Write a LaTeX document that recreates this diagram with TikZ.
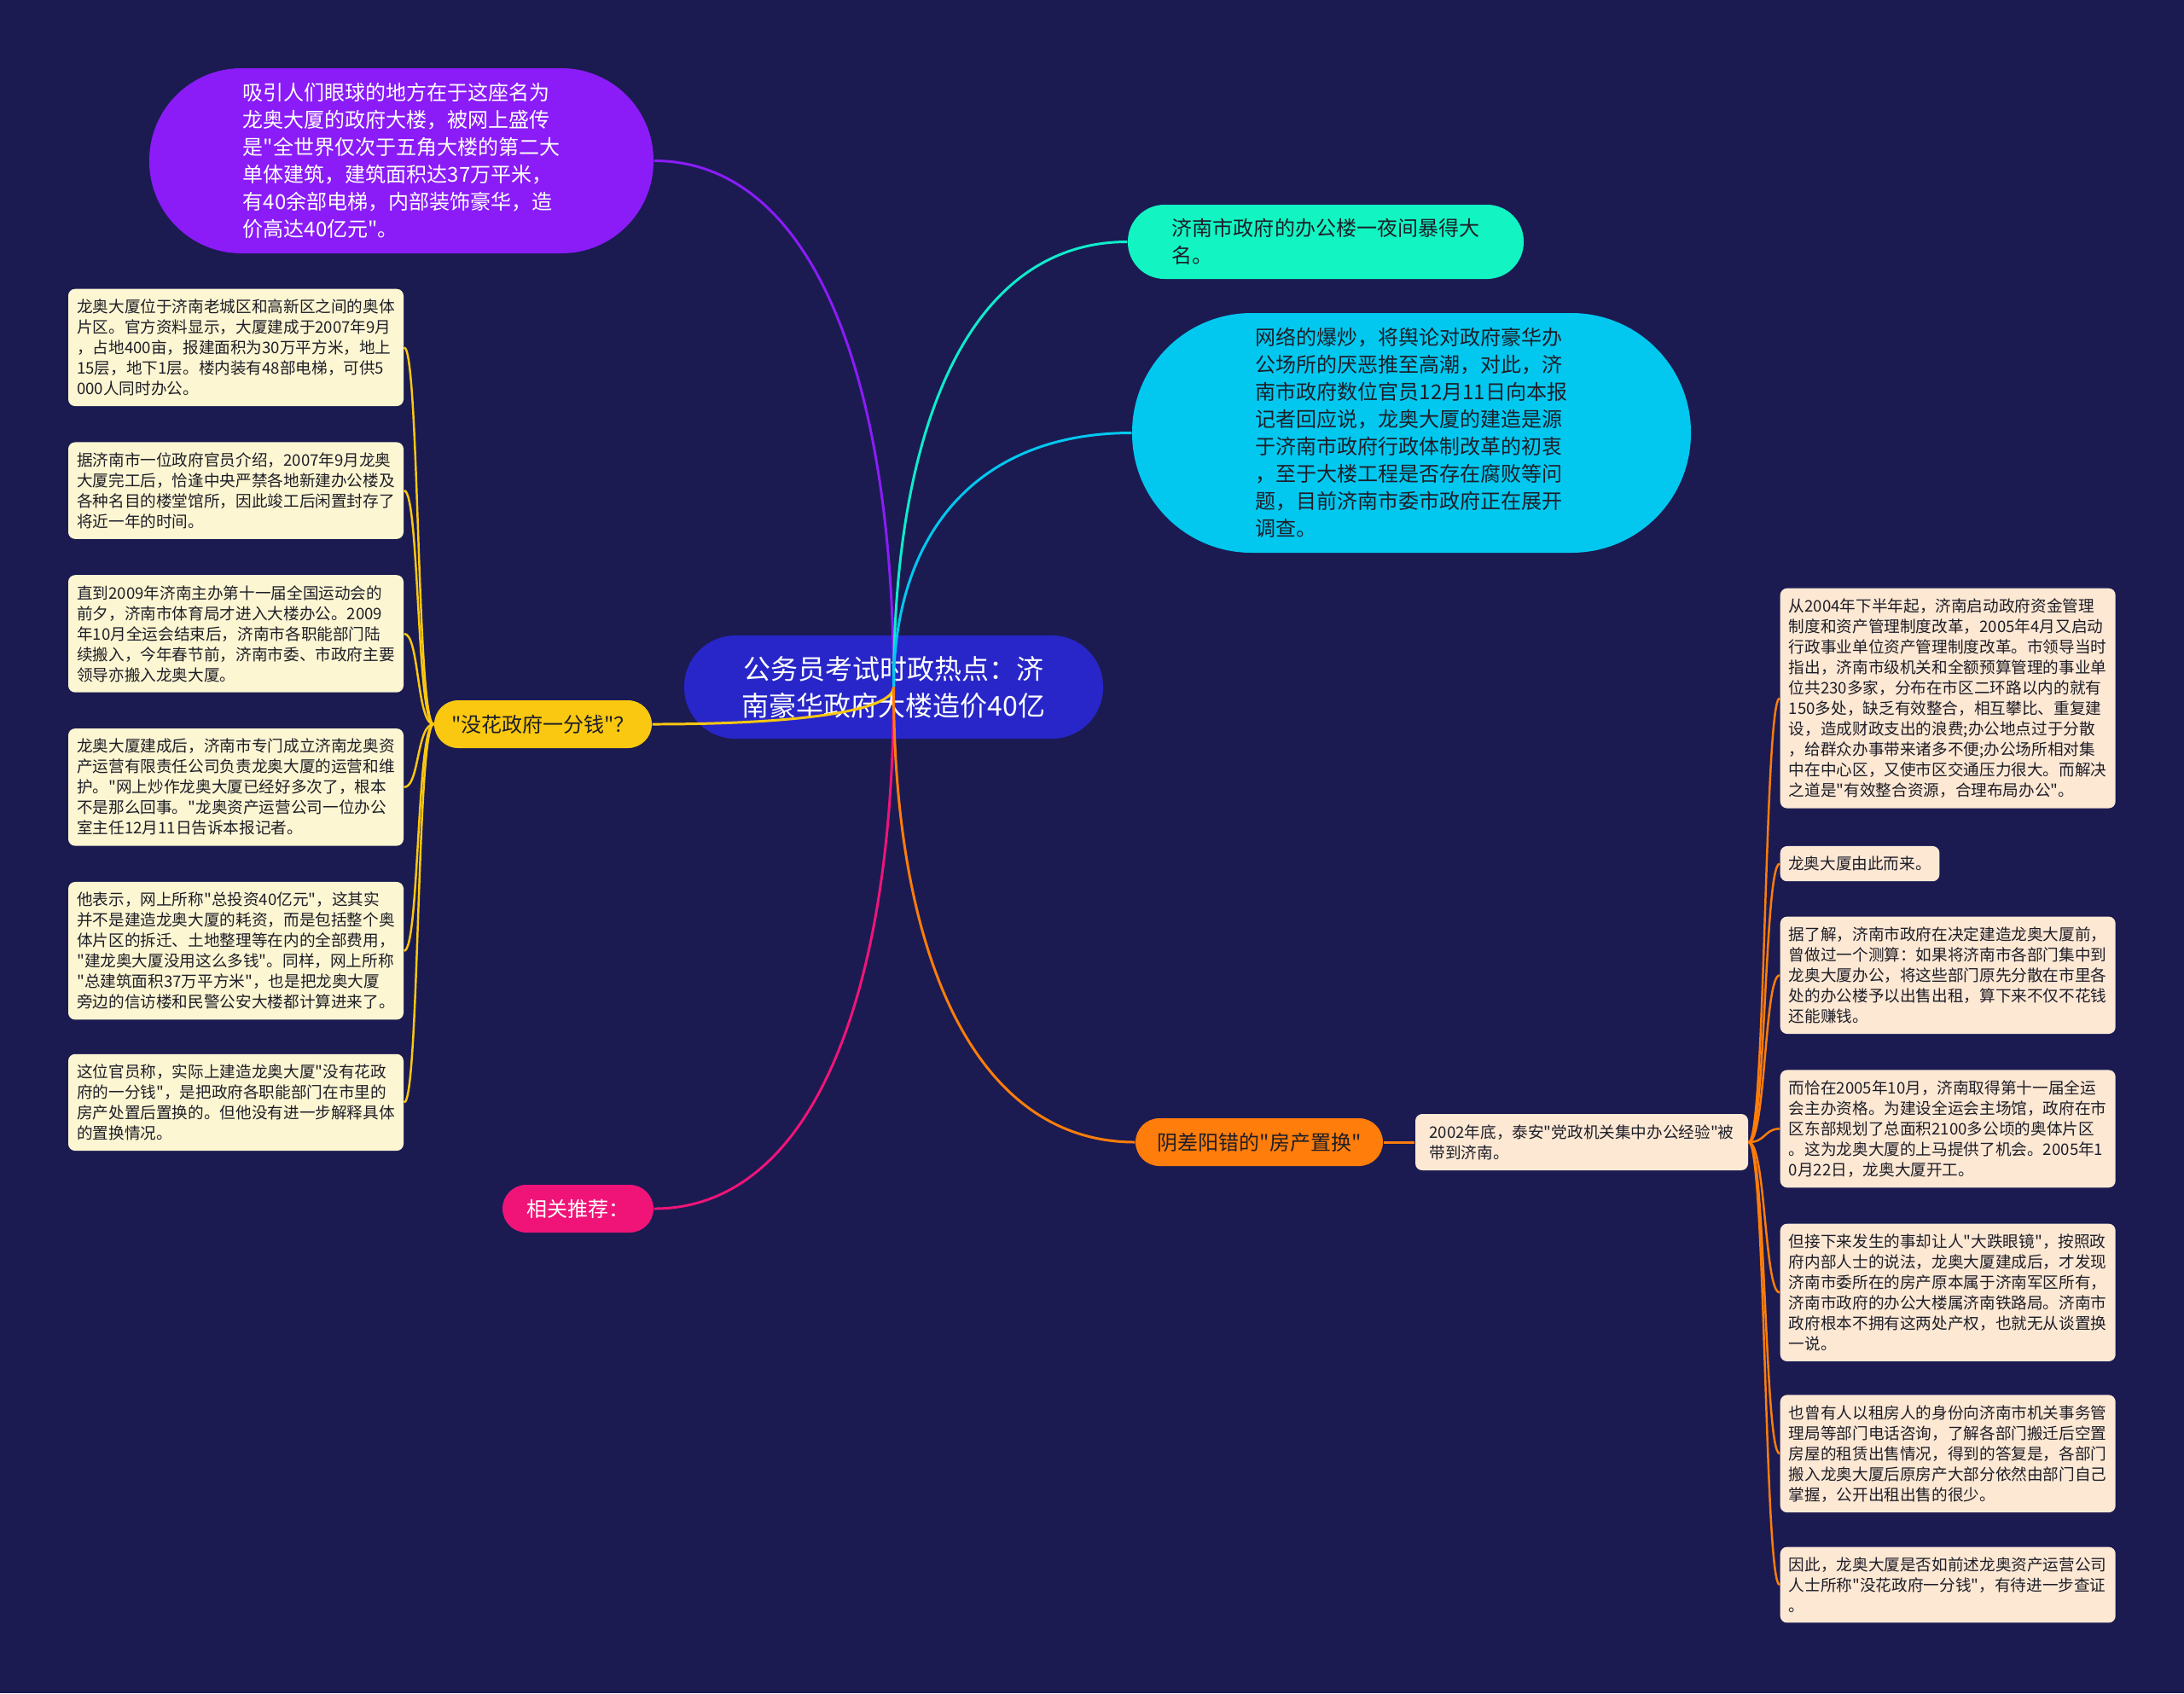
\documentclass[tikz,border=0pt]{standalone}
\usepackage{fontspec}
\setmainfont{Noto Sans CJK SC}[Ligatures=TeXOff]
\usetikzlibrary{positioning}
\definecolor{bg}{RGB}{27,27,82}
\definecolor{rootblue}{RGB}{40,38,200}
\definecolor{violet1}{RGB}{139,28,247}
\definecolor{mint}{RGB}{18,245,195}
\definecolor{sky}{RGB}{2,200,240}
\definecolor{gold}{RGB}{250,200,16}
\definecolor{rose}{RGB}{240,20,120}
\definecolor{amber}{RGB}{255,125,10}
\definecolor{cream}{RGB}{253,246,210}
\definecolor{peach}{RGB}{253,232,212}
\definecolor{ink}{RGB}{30,30,40}
\begin{document}
\begin{tikzpicture}[
  every node/.style={align=left, inner sep=0pt},
  topic/.style={fill=rootblue, text=white, align=center, font=\fontsize{9.1pt}{12.2pt}\selectfont,
    minimum width=4.91cm, minimum height=1.21cm, rounded corners=0.6cm},
  branch/.style={text=ink, font=\fontsize{6.83pt}{9.1pt}\selectfont},
  leaf/.style={fill=cream, text=ink, font=\fontsize{5.3pt}{6.83pt}\selectfont,
    minimum width=3.93cm, inner xsep=0.095cm, inner ysep=0.12cm, rounded corners=0.08cm},
  rleaf/.style={leaf, fill=peach},
  link/.style={line width=0.85pt},
  twig/.style={line width=0.7pt}
]
\fill[bg] (0,0) rectangle (25.6,-19.85);

\node[topic] (root) at (10.475,-8.055) {公务员考试时政热点：济\\南豪华政府大楼造价40亿};

\node[branch, fill=violet1, text=white, minimum width=5.91cm, minimum height=2.17cm, rounded corners=1.08cm] (fame) at (4.705,-1.885)
 {吸引人们眼球的地方在于这座名为\\龙奥大厦的政府大楼，被网上盛传\\是"全世界仅次于五角大楼的第二大\\单体建筑，建筑面积达37万平米，\\有40余部电梯，内部装饰豪华，造\\价高达40亿元"。};
\node[branch, fill=mint, minimum width=4.64cm, minimum height=0.87cm, rounded corners=0.43cm] (night) at (15.54,-2.835)
 {济南市政府的办公楼一夜间暴得大\\名。};
\node[branch, fill=sky, minimum width=6.55cm, minimum height=2.81cm, rounded corners=1.4cm] (reply) at (16.545,-5.075)
 {网络的爆炒，将舆论对政府豪华办\\公场所的厌恶推至高潮，对此，济\\南市政府数位官员12月11日向本报\\记者回应说，龙奥大厦的建造是源\\于济南市政府行政体制改革的初衷\\，至于大楼工程是否存在腐败等问\\题，目前济南市委市政府正在展开\\调查。};
\node[branch, fill=gold, minimum width=2.55cm, minimum height=0.56cm, rounded corners=0.28cm] (penny) at (6.365,-8.49)
 {"没花政府一分钱"？};
\node[branch, fill=rose, text=white, minimum width=1.77cm, minimum height=0.56cm, rounded corners=0.28cm] (more) at (6.775,-14.17)
 {相关推荐：};
\node[branch, fill=amber, minimum width=2.9cm, minimum height=0.56cm, rounded corners=0.28cm] (swap) at (14.76,-13.39)
 {阴差阳错的"房产置换"};
\node[rleaf, minimum width=3.9cm, minimum height=0.66cm] (taian) at (18.54,-13.39)
 {2002年底，泰安"党政机关集中办公经验"被\\带到济南。};

\node[leaf, anchor=north] (l1) at (2.765,-3.38)
 {龙奥大厦位于济南老城区和高新区之间的奥体\\片区。官方资料显示，大厦建成于2007年9月\\，占地400亩，报建面积为30万平方米，地上\\15层，地下1层。楼内装有48部电梯，可供5\\000人同时办公。};
\node[leaf, below=0.41cm of l1] (l2)
 {据济南市一位政府官员介绍，2007年9月龙奥\\大厦完工后，恰逢中央严禁各地新建办公楼及\\各种名目的楼堂馆所，因此竣工后闲置封存了\\将近一年的时间。};
\node[leaf, below=0.41cm of l2] (l3)
 {直到2009年济南主办第十一届全国运动会的\\前夕，济南市体育局才进入大楼办公。2009\\年10月全运会结束后，济南市各职能部门陆\\续搬入，今年春节前，济南市委、市政府主要\\领导亦搬入龙奥大厦。};
\node[leaf, below=0.41cm of l3] (l4)
 {龙奥大厦建成后，济南市专门成立济南龙奥资\\产运营有限责任公司负责龙奥大厦的运营和维\\护。"网上炒作龙奥大厦已经好多次了，根本\\不是那么回事。"龙奥资产运营公司一位办公\\室主任12月11日告诉本报记者。};
\node[leaf, below=0.41cm of l4] (l5)
 {他表示，网上所称"总投资40亿元"，这其实\\并不是建造龙奥大厦的耗资，而是包括整个奥\\体片区的拆迁、土地整理等在内的全部费用，\\"建龙奥大厦没用这么多钱"。同样，网上所称\\"总建筑面积37万平方米"，也是把龙奥大厦\\旁边的信访楼和民警公安大楼都计算进来了。};
\node[leaf, below=0.39cm of l5] (l6)
 {这位官员称，实际上建造龙奥大厦"没有花政\\府的一分钱"，是把政府各职能部门在市里的\\房产处置后置换的。但他没有进一步解释具体\\的置换情况。};

\node[rleaf, anchor=north west] (r1) at (20.86,-6.89)
 {从2004年下半年起，济南启动政府资金管理\\制度和资产管理制度改革，2005年4月又启动\\行政事业单位资产管理制度改革。市领导当时\\指出，济南市级机关和全额预算管理的事业单\\位共230多家，分布在市区二环路以内的就有\\150多处，缺乏有效整合，相互攀比、重复建\\设，造成财政支出的浪费;办公地点过于分散\\，给群众办事带来诸多不便;办公场所相对集\\中在中心区，又使市区交通压力很大。而解决\\之道是"有效整合资源，合理布局办公"。};
\node[rleaf, minimum width=0pt, below=0.43cm of r1.south west, anchor=north west] (r2)
 {龙奥大厦由此而来。};
\node[rleaf, below=0.4cm of r2.south west, anchor=north west] (r3)
 {据了解，济南市政府在决定建造龙奥大厦前，\\曾做过一个测算：如果将济南市各部门集中到\\龙奥大厦办公，将这些部门原先分散在市里各\\处的办公楼予以出售出租，算下来不仅不花钱\\还能赚钱。};
\node[rleaf, below=0.41cm of r3.south west, anchor=north west] (r4)
 {而恰在2005年10月，济南取得第十一届全运\\会主办资格。为建设全运会主场馆，政府在市\\区东部规划了总面积2100多公顷的奥体片区\\。这为龙奥大厦的上马提供了机会。2005年1\\0月22日，龙奥大厦开工。};
\node[rleaf, below=0.41cm of r4.south west, anchor=north west] (r5)
 {但接下来发生的事却让人"大跌眼镜"，按照政\\府内部人士的说法，龙奥大厦建成后，才发现\\济南市委所在的房产原本属于济南军区所有，\\济南市政府的办公大楼属济南铁路局。济南市\\政府根本不拥有这两处产权，也就无从谈置换\\一说。};
\node[rleaf, below=0.38cm of r5.south west, anchor=north west] (r6)
 {也曾有人以租房人的身份向济南市机关事务管\\理局等部门电话咨询，了解各部门搬迁后空置\\房屋的租赁出售情况，得到的答复是，各部门\\搬入龙奥大厦后原房产大部分依然由部门自己\\掌握，公开出租出售的很少。};
\node[rleaf, below=0.39cm of r6.south west, anchor=north west] (r7)
 {因此，龙奥大厦是否如前述龙奥资产运营公司\\人士所称"没花政府一分钱"，有待进一步查证\\。};

\draw[link, violet1] (root.center) .. controls +(0,3.7) and +(1.83,0) .. (fame.east);
\draw[link, mint!80!sky] (root.center) .. controls +(0,3.13) and +(-1.82,0) .. (night.west);
\draw[link, sky] (root.center) .. controls +(0,1.79) and +(-1.82,0) .. (reply.west);
\draw[link, gold] (root.center) .. controls +(0,-0.26) and +(1.84,0) .. (penny.east);
\draw[link, rose] (root.center) .. controls +(0,-3.67) and +(1.83,0) .. (more.east);
\draw[link, amber] (root.center) .. controls +(0,-3.2) and +(-1.85,0) .. (swap.west);
\draw[link, amber] (swap.east) -- (taian.west);
\foreach \n in {l1,l2,l3,l4,l5,l6}
  \draw[twig, gold] (penny.west) .. controls +(-0.2,0) and +(0.18,0) .. (\n.east);
\foreach \n in {r1,r2,r3,r4,r5,r6,r7}
  \draw[twig, amber] (taian.east) .. controls +(0.2,0) and +(-0.18,0) .. (\n.west);
\end{tikzpicture}
\end{document}
